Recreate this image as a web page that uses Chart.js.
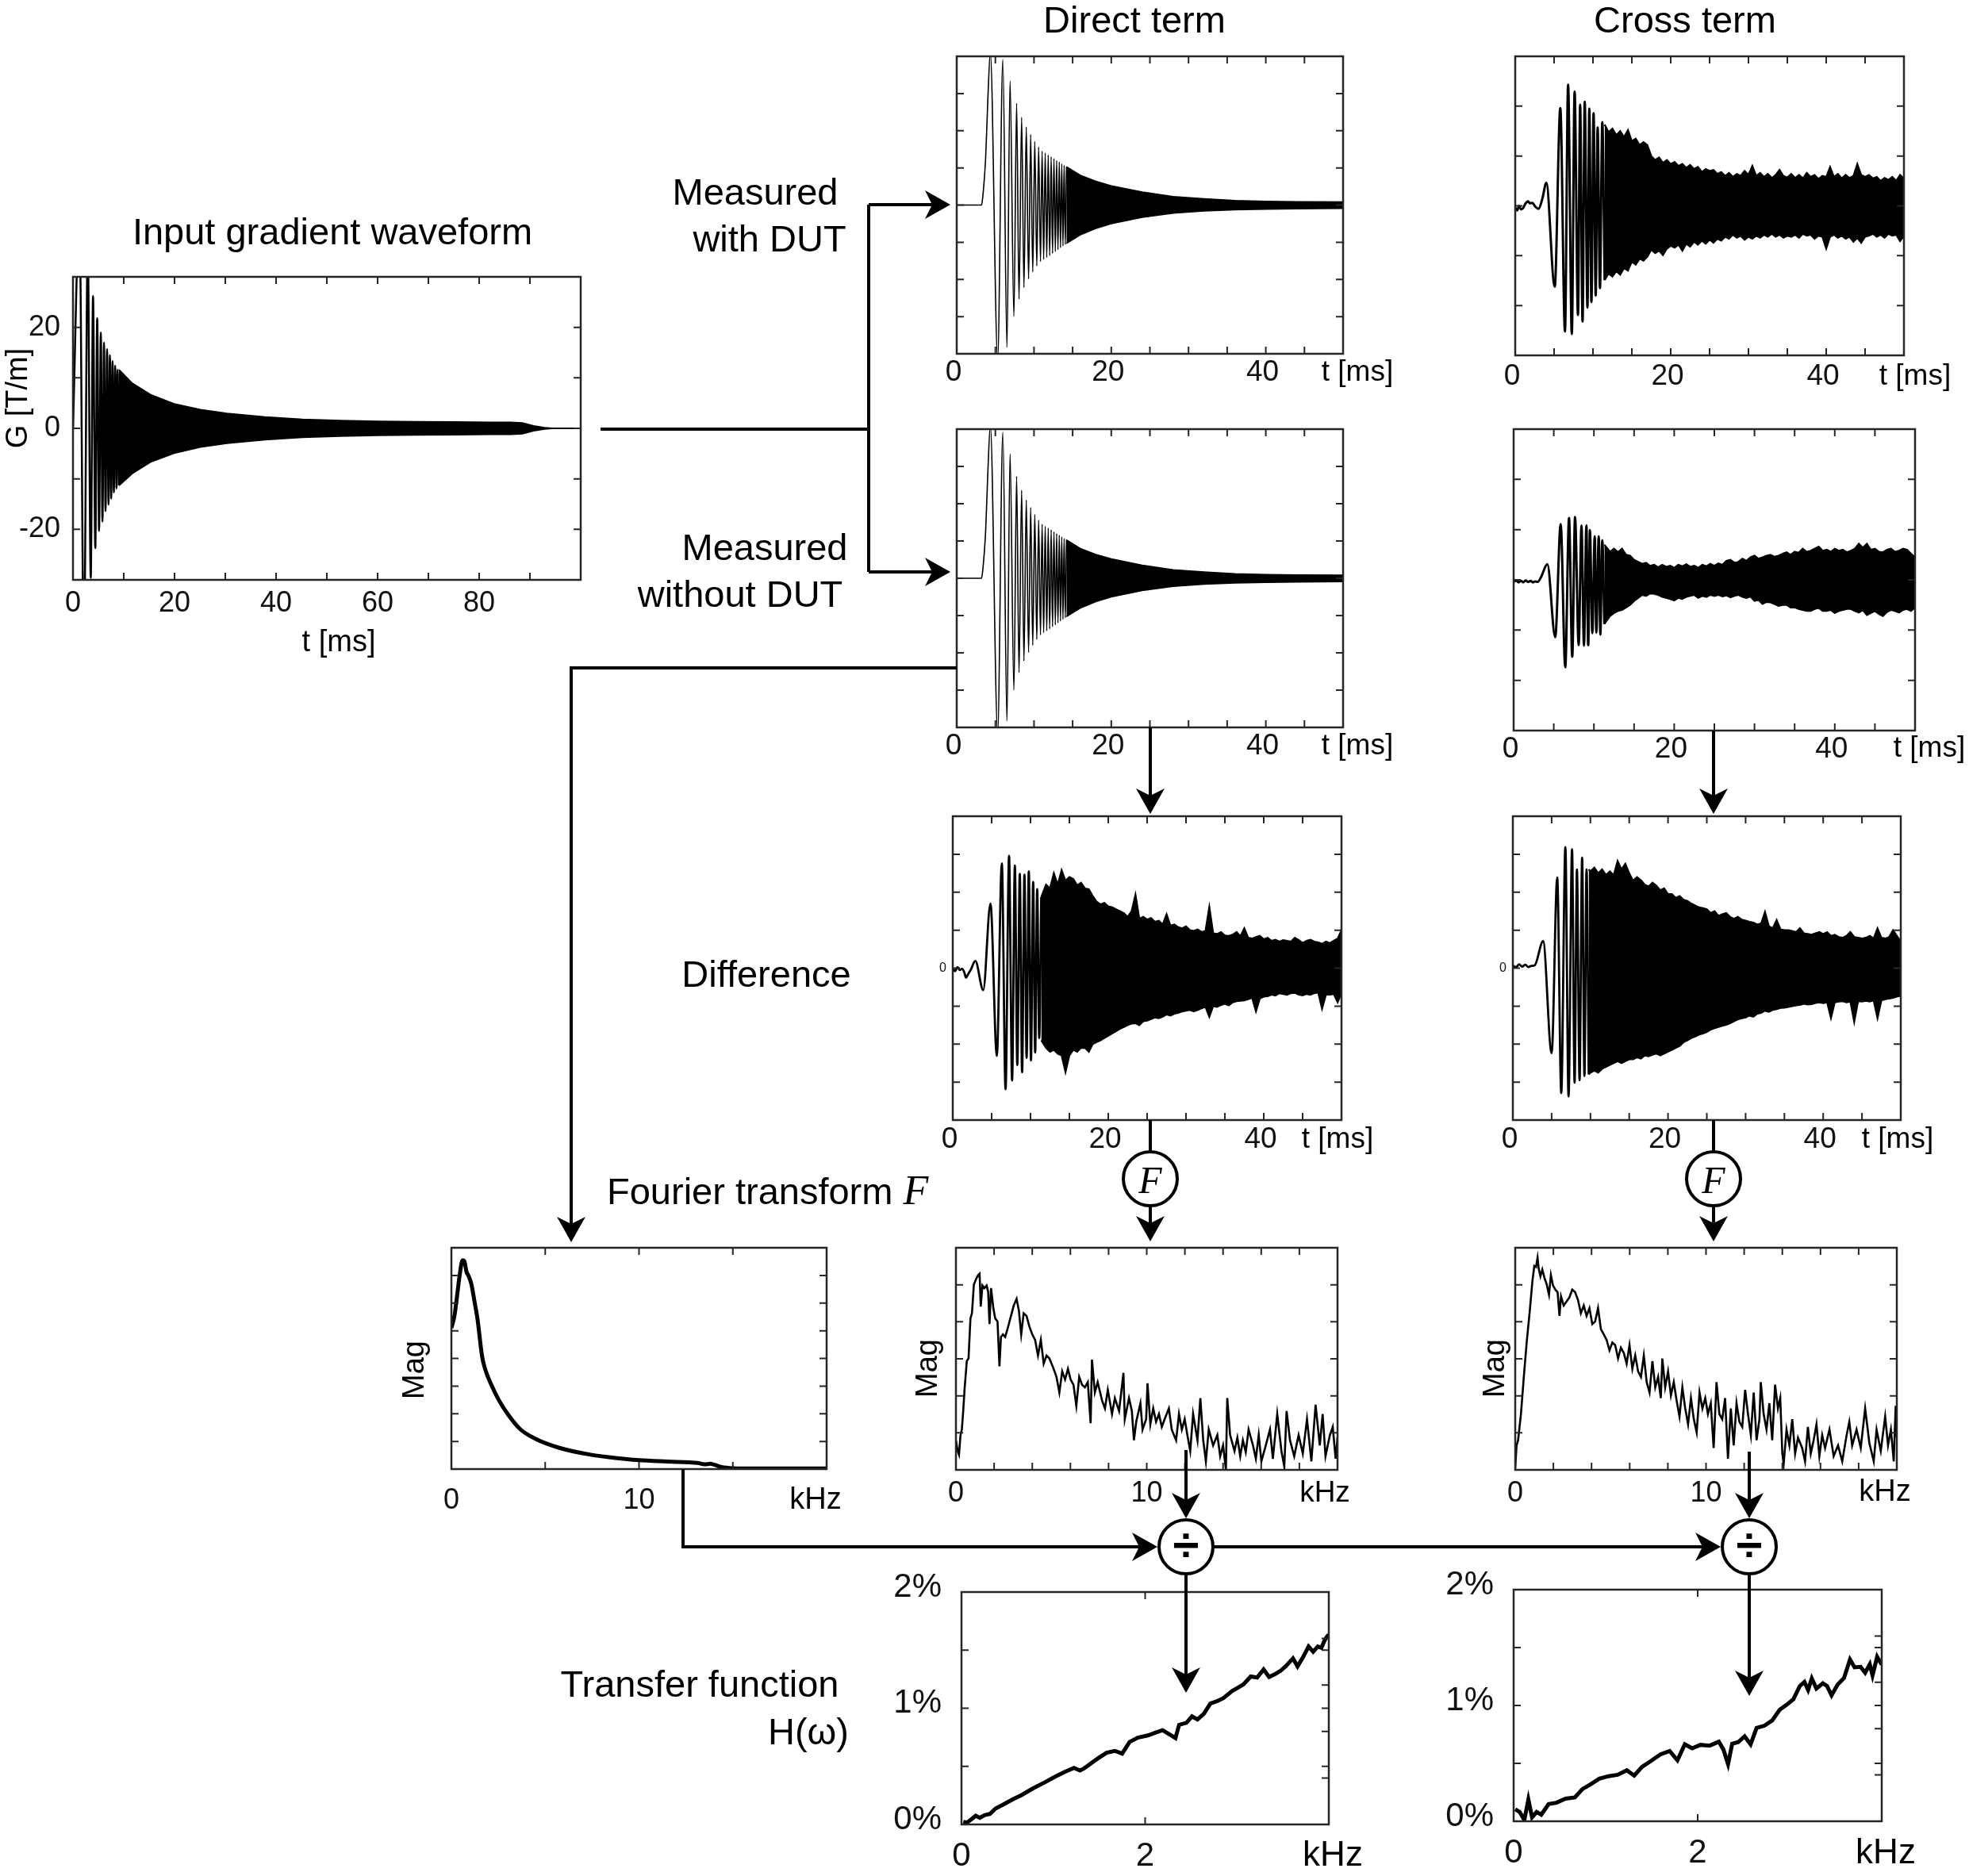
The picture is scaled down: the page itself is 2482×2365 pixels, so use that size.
<!DOCTYPE html>
<html><head><meta charset="utf-8">
<script src="https://cdn.jsdelivr.net/npm/chart.js@4/dist/chart.umd.min.js"></script>
<style>
html,body{margin:0;padding:0;background:#fff;}
#page{position:relative;width:2482px;height:2365px;overflow:hidden;background:#fff;font-family:'Liberation Sans',Arial,sans-serif;color:#000;}
canvas{position:absolute;}
.t{position:absolute;white-space:nowrap;}
svg{position:absolute;left:0;top:0;}
</style></head><body><div id="page"></div>
<script>
// ===================== DATA =====================
// Input gradient waveform (t [ms], G [T/m]) - individual extrema then envelope
const inputPeaks = [[0,0],[1.27,42],[2.16,-44],[2.91,36],[3.50,-29.6],[3.95,26.2],[4.40,-23.7],[4.77,21.8],[5.14,-20.3],[5.48,19.0],[5.81,-18.5],[6.11,17.0],[6.41,-16.4],[6.71,15.7],[7.00,-15.1],[7.27,14.5],[7.53,-13.9],[7.79,13.3],[8.05,-12.7],[8.31,12.4],[8.57,-11.9],[8.79,11.6],[9.05,-11.3]];
const inputEnvT  = [9.05,11.7,15.4,19.9,25.1,30.3,37.8,45.2,52.7,60.1,67.6,75.0,82.5,86.2,88.5,90.7,92.9,94.4,100];
const inputEnvUp = [11.6,8.9,6.6,4.85,3.7,2.96,2.25,1.78,1.54,1.36,1.3,1.24,1.18,1.18,1.07,0.47,0.12,0,0];
const inputEnvLo = [-11.3,-8.9,-6.6,-4.9,-3.7,-2.96,-2.25,-1.78,-1.54,-1.36,-1.3,-1.24,-1.18,-1.18,-1.07,-0.47,-0.12,0,0];

// Direct term, measured (with / without DUT look identical)
const directPeaks = [[0,0],[3.2,0],[3.36,0.2],[3.75,1.3],[4.03,2.86],[4.35,4.1],[5.3,-4.15],[5.97,3.92],[6.5,-3.83],[6.9,3.34],[7.4,-3.0],[7.75,2.74],[8.06,-2.53],[8.4,2.36],[8.7,-2.22],[9.0,2.10],[9.3,-1.99],[9.57,1.90],[9.84,-1.80],[10.1,1.71],[10.36,-1.64],[10.6,1.56],[10.84,-1.52],[11.05,1.45],[11.25,-1.46],[11.45,1.40],[11.65,-1.41],[11.84,1.35],[12.03,-1.36],[12.22,1.30],[12.40,-1.30],[12.58,1.25],[12.76,-1.25],[12.93,1.20],[13.10,-1.20],[13.27,1.16],[13.43,-1.15],[13.59,1.11],[13.75,-1.10],[13.90,1.07],[14.05,-1.06],[14.20,1.03]];
const directEnvT  = [14.2,16,18,20,24,28,32,36,40,44,50];
const directEnvUp = [1.03,0.80,0.64,0.52,0.35,0.23,0.17,0.125,0.10,0.09,0.085];
const directEnvLo = [-1.03,-0.80,-0.63,-0.50,-0.33,-0.22,-0.16,-0.13,-0.11,-0.10,-0.09];

// Cross term, measured with DUT
const crossTopPeaks = [[0,-0.04],[0.25,-0.09],[0.5,0.0],[0.75,-0.07],[1.0,-0.05],[1.3,0.04],[1.65,0.09],[1.9,0.05],[2.2,0.06],[2.6,-0.02],[3.0,-0.06],[3.5,0.15],[4.0,0.46],[5.08,-1.62],[5.8,1.96],[6.4,-2.52],[6.8,2.43],[7.28,-2.57],[7.64,2.29],[8.07,-2.19],[8.35,2.03],[8.66,-2.32],[8.94,2.09],[9.29,-2.04],[9.53,1.95],[9.8,-1.93],[10.08,1.86],[10.35,-1.80],[10.6,1.57],[10.9,-1.65],[11.2,1.68],[11.5,-1.49]];
const crossTopEnvT  = [11.5,12,12.5,13,13.5,14,14.5,15,15.5,16,16.5,17,17.5,18,18.5,19,19.5,20,20.5,21,21.5,22,22.5,23,23.5,24,24.5,25,25.5,26,26.5,27,27.5,28,28.5,29,29.5,30,30.5,31,31.5,32,32.5,33,33.5,34,34.5,35,35.5,36,36.5,37,37.5,38,38.5,39,39.5,40,40.5,41,41.5,42,42.5,43,43.5,44,44.5,45,45.5,46,46.5,47,47.5,48,48.5,49,49.5,50];
const crossTopEnvUp = [1.63,1.48,1.55,1.42,1.50,1.38,1.52,1.30,1.35,1.22,1.28,1.22, 1.00,0.92,0.97,0.86,0.92,0.84, 0.88,0.80,0.84,0.76,0.82,0.74,0.78,0.68,0.74,0.70, 0.72,0.64,0.68,0.60,0.66,0.58,0.64,0.60,0.70,0.62, 0.80,0.60,0.66,0.58,0.64,0.56,0.62,0.72,0.60,0.57, 0.64,0.56,0.62,0.55,0.66,0.58,0.62,0.54,0.60,0.58, 0.78,0.58,0.64,0.55,0.62,0.56,0.60,0.84,0.62,0.58, 0.62,0.55,0.58,0.50,0.56,0.52,0.58,0.50,0.62,0.55];
const crossTopEnvLo = [-1.49,-1.36,-1.42,-1.31,-1.38,-1.25,-1.30,-1.12,-1.18,-1.06,-1.10,-1.02, -0.88,-0.95,-0.90,-0.99,-0.86,-0.80, -0.84,-0.78,-0.90,-0.76,-0.82,-0.72,-0.78,-0.70,-0.76,-0.68, -0.74,-0.66,-0.70,-0.62,-0.66,-0.58,-0.64,-0.60,-0.68,-0.62, -0.66,-0.60,-0.64,-0.58,-0.62,-0.56,-0.62,-0.58,-0.64,-0.60, -0.62,-0.58,-0.64,-0.56,-0.60,-0.58,-0.66,-0.60,-0.62,-0.86, -0.62,-0.58,-0.64,-0.60,-0.66,-0.62,-0.72,-0.64,-0.74,-0.62, -0.60,-0.56,-0.62,-0.58,-0.64,-0.56,-0.60,-0.58,-0.71,-0.60];

// Cross term, measured without DUT
const crossMidPeaks = [[0,-0.04],[0.3,-0.01],[0.6,-0.05],[0.9,-0.02],[1.2,-0.05],[1.5,-0.01],[1.8,-0.04],[2.1,-0.02],[2.4,-0.05],[2.7,-0.03],[3.0,-0.04],[3.4,0.05],[4.2,0.31],[5.18,-1.14],[5.86,1.11],[6.43,-1.74],[6.9,1.23],[7.3,-1.53],[7.65,1.25],[8.1,-1.30],[8.45,1.08],[8.76,-1.31],[9.06,1.08],[9.29,-1.30],[9.5,0.99],[9.8,-1.06],[10.1,0.87],[10.3,-1.05],[10.6,0.87],[10.8,-1.09],[11.04,0.79],[11.3,-0.88]];
const crossMidEnvT  = [11.3,12,12.5,13,13.5,14,14.5,15,15.5,16,16.5,17,17.5,18,18.5,19,19.5,20,20.5,21,21.5,22,22.5,23,23.5,24,24.5,25,25.5,26,26.5,27,27.5,28,28.5,29,29.5,30,30.5,31,31.5,32,32.5,33,33.5,34,34.5,35,35.5,36,36.5,37,37.5,38,38.5,39,39.5,40,40.5,41,41.5,42,42.5,43,43.5,44,44.5,45,45.5,46,46.5,47,47.5,48,48.5,49,49.5,50];
const crossMidEnvUp = [0.70, 0.56,0.62,0.55,0.62,0.50,0.48,0.40,0.36,0.32,0.34,0.28, 0.30,0.25,0.30,0.26,0.28,0.24,0.30,0.27,0.31,0.26, 0.28,0.24,0.30,0.27,0.32,0.28,0.33,0.30,0.38,0.40, 0.34,0.36,0.42,0.38,0.45,0.48,0.42,0.45,0.48,0.50, 0.46,0.48,0.52,0.55,0.50,0.56,0.54,0.62,0.56,0.58, 0.62,0.66,0.58,0.60,0.56,0.62,0.58,0.60,0.55,0.58, 0.62,0.72,0.64,0.72,0.60,0.62,0.56,0.55,0.60,0.62, 0.56,0.58,0.62,0.60,0.52,0.45];
const crossMidEnvLo = [-0.88, -0.72,-0.66,-0.62,-0.60,-0.55,-0.50,-0.42,-0.36,-0.30,-0.32,-0.27, -0.28,-0.30,-0.34,-0.36,-0.38,-0.41,-0.36,-0.38,-0.34,-0.32, -0.30,-0.36,-0.32,-0.34,-0.30,-0.32,-0.30,-0.33,-0.31,-0.35, -0.32,-0.30,-0.34,-0.36,-0.33,-0.42,-0.40,-0.48,-0.44,-0.45, -0.48,-0.52,-0.50,-0.50,-0.55,-0.55,-0.58,-0.60,-0.62,-0.62, -0.58,-0.56,-0.62,-0.62,-0.60,-0.66,-0.62,-0.60,-0.58,-0.58, -0.62,-0.65,-0.60,-0.70,-0.66,-0.62,-0.68,-0.72,-0.64,-0.60, -0.62,-0.65,-0.60,-0.58,-0.62,-0.55];

// Difference, direct term
const diffDirectPeaks = [[0,0.0],[0.3,-0.08],[0.6,0.03],[0.9,-0.05],[1.2,-0.02],[1.5,-0.12],[1.7,-0.25],[2.0,-0.15],[2.3,-0.05],[2.9,0.19],[3.92,-0.58],[4.85,1.70],[5.67,-2.31],[6.31,2.76],[6.79,-3.19],[7.24,2.96],[7.63,-2.96],[7.99,2.70],[8.30,-2.55],[8.62,2.48],[8.92,-2.74],[9.22,2.46],[9.50,-2.36],[9.78,2.55],[10.06,-2.43],[10.34,2.27],[10.60,-2.22],[10.86,2.08],[11.12,-1.84],[11.38,1.87]];
const diffDirectEnvT  = [11.38,12,12.5,13,13.5,14,14.5,15,15.5,16,16.5,17,17.5,18,18.5,19,19.5,20,20.5,21,21.5,22,22.5,23,23.5,24,24.5,25,25.5,26,26.5,27,27.5,28,28.5,29,29.5,30,30.5,31,31.5,32,32.5,33,33.5,34,34.5,35,35.5,36,36.5,37,37.5,38,38.5,39,39.5,40,40.5,41,41.5,42,42.5,43,43.5,44,44.5,45,45.5,46,46.5,47,47.5,48,48.5,49,49.5,50];
const diffDirectEnvUp = [1.87, 2.2,2.1,2.5,2.2,2.58,2.3,2.4,2.35,2.18,2.25,2.1, 2.08,1.9,1.75,1.68,1.72,1.63,1.6,1.55,1.5,1.45, 1.35,1.5,1.94,1.3,1.35,1.28,1.32,1.22,1.25,1.15, 1.42,1.12,1.15,1.08,1.05,1.1,1.0,0.98,1.02,0.95, 0.98,1.62,0.92,0.9,0.95,0.86,0.85,0.88,0.95,0.84, 1.05,0.8,0.78,0.82,0.85,0.76,0.8,0.72,0.75,0.7, 0.74,0.72,0.7,0.8,0.74,0.66,0.72,0.75,0.7,0.68, 0.64,0.7,0.66,0.72,0.78,1.0];
const diffDirectEnvLo = [-1.9, -2.1,-2.2,-2.15,-2.25,-2.3,-2.74,-2.3,-2.15,-2.2,-2.1,-2.1, -2.2,-2.0,-1.95,-1.9,-1.84,-1.78,-1.72,-1.66,-1.6,-1.55, -1.5,-1.46,-1.45,-1.5,-1.4,-1.38,-1.34,-1.3,-1.32,-1.28, -1.22,-1.25,-1.2,-1.18,-1.14,-1.12,-1.1,-1.14,-1.1,-1.06, -1.02,-1.28,-1.0,-1.02,-0.97,-0.94,-0.98,-0.9,-0.87,-0.86, -0.85,-0.82,-0.78,-1.14,-0.8,-0.75,-0.74,-0.7,-0.72,-0.66, -0.68,-0.7,-0.66,-0.65,-0.7,-0.72,-0.68,-0.7,-0.66,-0.64, -1.07,-0.7,-0.7,-0.68,-0.9,-0.66];

// Difference, cross term
const diffCrossPeaks = [[0,0.07],[0.4,0.02],[0.8,0.1],[1.2,0.04],[1.6,0.09],[2.0,0.03],[2.4,0.06],[2.8,0.07],[3.9,0.71],[5.0,-2.24],[5.72,2.39],[6.24,-3.29],[6.77,3.19],[7.18,-3.38],[7.63,3.13],[7.96,-3.02],[8.26,2.6],[8.6,-2.95],[8.93,2.91],[9.23,-2.84],[9.5,2.6],[9.78,-2.8]];
const diffCrossEnvT  = [9.78,10,10.5,11,11.5,12,12.5,13,13.5,14,14.5,15,15.5,16,16.5,17,17.5,18,18.5,19,19.5,20,20.5,21,21.5,22,22.5,23,23.5,24,24.5,25,25.5,26,26.5,27,27.5,28,28.5,29,29.5,30,30.5,31,31.5,32,32.5,33,33.5,34,34.5,35,35.5,36,36.5,37,37.5,38,38.5,39,39.5,40,40.5,41,41.5,42,42.5,43,43.5,44,44.5,45,45.5,46,46.5,47,47.5,48,48.5,49,49.5,50];
const diffCrossEnvUp = [2.6, 2.55,2.65,2.5,2.6,2.45,2.55,2.45,2.82,2.6,2.75,2.5, 2.3,2.4,2.32,2.2,2.15,2.25,2.17,2.05,2.1,1.95, 1.95,1.85,1.9,1.8,1.77,1.7,1.65,1.6,1.58,1.55, 1.45,1.5,1.38,1.42,1.45,1.35,1.3,1.35,1.28,1.25, 1.22,1.2,1.15,1.18,1.48,1.1,1.05,1.27,1.02,1.0, 1.0,0.98,0.95,1.05,0.92,0.9,0.88,0.92,0.95,0.9, 0.95,0.85,0.88,0.82,0.8,0.85,0.95,0.82,0.8,0.78, 0.8,0.85,0.78,1.05,0.8,0.78,0.82,1.0,0.85,0.7];
const diffCrossEnvLo = [-2.8, -2.75,-2.7,-2.75,-2.65,-2.6,-2.55,-2.5,-2.45,-2.5,-2.45,-2.4, -2.4,-2.35,-2.38,-2.3,-2.32,-2.28,-2.25,-2.3,-2.25,-2.2, -2.15,-2.1,-2.05,-1.95,-1.9,-1.84,-1.8,-1.75,-1.72,-1.68, -1.62,-1.58,-1.55,-1.52,-1.49,-1.45,-1.4,-1.35,-1.32,-1.3, -1.25,-1.28,-1.2,-1.18,-1.12,-1.15,-1.1,-1.08,-1.05,-1.04, -1.02,-1.0,-0.98,-0.97,-0.94,-0.96,-0.95,-0.92,-0.9,-0.92, -0.9,-1.32,-0.9,-0.88,-0.87,-0.9,-0.88,-1.42,-0.87,-0.88, -0.86,-0.88,-0.85,-1.32,-0.85,-0.82,-0.8,-0.78,-0.75,-0.73];

// Fourier magnitudes (kHz, Mag)
const fftInput = [[0,5.10],[0.16,5.53],[0.29,6.19],[0.44,7.0],[0.6,7.55],[0.7,7.5],[0.8,7.14],[0.9,7.0],[1.06,6.7],[1.22,6.1],[1.39,5.43],[1.63,4.1],[1.79,3.63],[2.12,3.06],[2.53,2.49],[3.02,1.97],[3.67,1.44],[4.49,1.09],[5.79,0.76],[7.42,0.52],[9.05,0.38],[10.0,0.32],[11.5,0.27],[13.13,0.22],[13.5,0.17],[13.8,0.19],[14.0,0.16],[14.4,0.07],[15.0,0.03],[16.4,0.02],[20.0,0.02]];
const fftDirect = [[0,0.8],[0.09,0.51],[0.16,0.41],[0.24,0.94],[0.31,1.09],[0.37,1.51],[0.46,2.23],[0.57,2.94],[0.66,3.01],[0.76,4.09],[0.84,4.23],[0.94,5.01],[1.06,5.16],[1.16,5.26],[1.24,5.3],[1.30,4.41],[1.39,4.98],[1.49,4.91],[1.61,4.98],[1.69,4.8],[1.76,3.94],[1.84,4.91],[1.96,4.37],[2.06,4.09],[2.18,4.01],[2.28,2.8],[2.36,3.59],[2.46,3.66],[2.58,3.59],[2.70,3.8],[2.85,4.09],[3.03,4.44],[3.18,4.62],[3.30,4.3],[3.42,3.66],[3.55,4.23],[3.70,4.16],[3.85,3.87],[4.00,3.66],[4.15,3.51],[4.30,3.09],[4.45,3.51],[4.60,2.87],[4.75,3.09],[4.90,3.01],[5.12,2.73],[5.27,2.51],[5.42,2.09],[5.57,2.66],[5.72,2.44],[5.87,2.73],[6.01,2.44],[6.16,2.3],[6.31,1.73],[6.46,2.51],[6.61,2.3],[6.76,2.23],[6.91,2.37],[7.06,1.26],[7.13,2.98],[7.28,2.09],[7.43,2.37],[7.66,1.87],[7.81,1.66],[7.96,2.16],[8.18,1.51],[8.33,1.94],[8.55,1.59],[8.78,2.62],[8.85,1.37],[9.07,1.94],[9.22,1.59],[9.33,0.8],[9.45,1.3],[9.67,1.8],[9.78,1.09],[9.97,1.37],[10.04,2.34],[10.19,1.23],[10.34,1.66],[10.49,1.3],[10.64,1.51],[10.79,1.16],[10.94,1.37],[11.16,1.66],[11.31,1.09],[11.54,0.8],[11.69,1.51],[11.84,1.09],[11.99,1.37],[12.13,0.94],[12.28,0.51],[12.43,1.51],[12.66,0.8],[12.81,1.94],[12.96,0.8],[13.10,0.23],[13.25,1.09],[13.48,0.66],[13.70,0.94],[13.85,0.37],[14.00,0.66],[14.15,0.01],[14.22,1.94],[14.37,0.94],[14.60,0.51],[14.75,0.87],[14.90,0.37],[15.04,0.8],[15.19,0.48],[15.34,1.09],[15.57,0.66],[15.72,0.3],[15.87,0.94],[16.01,0.23],[16.24,0.66],[16.46,1.09],[16.61,0.3],[16.84,1.51],[17.06,0.51],[17.21,0.09],[17.33,1.59],[17.51,0.8],[17.73,0.37],[17.96,0.94],[18.18,0.44],[18.40,1.37],[18.63,0.23],[18.85,1.76],[19.07,0.66],[19.22,1.51],[19.37,0.37],[19.60,0.94],[19.75,1.16],[19.90,0.3],[20.00,0.87]];
const fftCross = [[0,0.05],[0.07,0.66],[0.15,0.8],[0.30,1.51],[0.45,2.51],[0.60,3.44],[0.75,4.23],[0.90,5.09],[1.00,5.51],[1.09,5.48],[1.17,5.73],[1.23,5.44],[1.32,5.23],[1.42,5.41],[1.53,5.19],[1.65,5.01],[1.77,4.73],[1.87,5.26],[1.98,4.98],[2.10,4.87],[2.22,4.8],[2.32,4.16],[2.40,4.69],[2.54,4.44],[2.69,4.55],[2.84,4.66],[2.99,4.87],[3.14,4.8],[3.29,4.59],[3.44,4.23],[3.59,4.44],[3.74,4.16],[3.89,4.37],[4.04,3.94],[4.19,4.01],[4.34,4.37],[4.49,3.8],[4.64,3.66],[4.79,3.51],[4.94,3.23],[5.09,3.44],[5.24,3.37],[5.39,3.01],[5.54,3.3],[5.69,3.16],[5.84,2.87],[5.99,3.37],[6.14,2.73],[6.29,3.09],[6.44,2.66],[6.59,2.51],[6.74,3.09],[6.89,2.37],[7.04,2.09],[7.19,2.94],[7.34,2.23],[7.49,2.51],[7.63,1.94],[7.71,3.01],[7.86,2.23],[8.01,2.66],[8.16,2.01],[8.31,2.37],[8.46,1.87],[8.61,1.44],[8.76,2.23],[8.91,1.66],[9.06,1.23],[9.21,1.94],[9.36,1.37],[9.51,1.01],[9.66,2.09],[9.81,1.66],[9.96,1.94],[10.10,1.51],[10.25,1.8],[10.40,0.59],[10.55,2.37],[10.70,1.51],[10.85,1.37],[11.00,1.94],[11.15,0.3],[11.30,1.66],[11.45,0.66],[11.60,1.8],[11.75,1.3],[11.90,1.16],[12.05,2.16],[12.20,1.51],[12.35,0.94],[12.50,2.09],[12.65,0.8],[12.80,1.37],[12.87,2.37],[13.02,1.51],[13.17,1.09],[13.32,1.8],[13.47,0.8],[13.62,2.3],[13.77,1.66],[13.89,1.94],[14.00,0.44],[14.07,0.16],[14.22,1.09],[14.37,0.66],[14.52,1.37],[14.67,0.44],[14.82,0.87],[15.04,0.59],[15.19,0.23],[15.34,1.16],[15.49,0.44],[15.64,0.8],[15.79,1.23],[15.94,0.37],[16.09,0.94],[16.24,0.59],[16.47,1.09],[16.69,0.37],[16.92,0.66],[17.14,0.23],[17.37,0.94],[17.51,1.3],[17.66,0.66],[17.89,1.09],[18.11,0.59],[18.34,1.66],[18.56,0.73],[18.79,0.23],[18.94,1.09],[19.16,0.51],[19.39,1.44],[19.54,0.66],[19.69,1.09],[19.84,0.23],[19.94,1.73],[20.00,0.87]];

// Transfer functions (kHz, %)
const tfDirect = [[0.02,0.023],[0.06,0.016],[0.11,0.046],[0.155,0.075],[0.2,0.057],[0.25,0.08],[0.31,0.09],[0.37,0.137],[0.465,0.176],[0.56,0.217],[0.65,0.251],[0.775,0.309],[0.9,0.359],[1.02,0.411],[1.12,0.45],[1.225,0.487],[1.29,0.464],[1.33,0.48],[1.41,0.526],[1.49,0.571],[1.58,0.617],[1.67,0.633],[1.75,0.61],[1.83,0.709],[1.92,0.747],[2.03,0.766],[2.11,0.789],[2.19,0.811],[2.26,0.777],[2.33,0.743],[2.37,0.857],[2.45,0.875],[2.51,0.93],[2.57,0.903],[2.64,0.953],[2.71,1.04],[2.79,1.063],[2.85,1.086],[2.95,1.15],[3.01,1.177],[3.07,1.205],[3.15,1.273],[3.22,1.264],[3.29,1.333],[3.35,1.269],[3.41,1.291],[3.47,1.319],[3.53,1.36],[3.61,1.429],[3.66,1.36],[3.72,1.44],[3.78,1.531],[3.83,1.486],[3.88,1.531],[3.92,1.52],[3.95,1.577],[3.98,1.616],[4.0,1.634]];
const tfCross = [[0.017,0.103],[0.066,0.08],[0.116,0.011],[0.16,0.188],[0.2,0.034],[0.25,0.08],[0.3,0.057],[0.38,0.149],[0.465,0.16],[0.565,0.195],[0.665,0.206],[0.75,0.28],[0.83,0.316],[0.93,0.367],[1.03,0.389],[1.13,0.401],[1.23,0.44],[1.31,0.394],[1.395,0.47],[1.495,0.522],[1.595,0.577],[1.695,0.607],[1.78,0.527],[1.86,0.664],[1.94,0.63],[2.03,0.66],[2.13,0.653],[2.23,0.687],[2.28,0.619],[2.33,0.493],[2.375,0.669],[2.44,0.683],[2.51,0.733],[2.575,0.664],[2.64,0.806],[2.725,0.825],[2.81,0.871],[2.89,0.962],[2.97,1.008],[3.04,1.054],[3.11,1.168],[3.16,1.203],[3.2,1.134],[3.24,1.233],[3.29,1.146],[3.36,1.191],[3.405,1.168],[3.455,1.088],[3.52,1.18],[3.59,1.237],[3.655,1.397],[3.705,1.329],[3.77,1.333],[3.82,1.283],[3.87,1.356],[3.9,1.26],[3.95,1.42],[4.0,1.352]];

// Tick positions and tick labels
const inputXTicks = [10,20,30,40,50,60,70,80,90];
const inputYTicks = [-20,-10,0,10,20];
const inputXLabels = [[0,'0'],[20,'20'],[40,'40'],[60,'60'],[80,'80']];
const inputYLabels = [[20,'20'],[0,'0'],[-20,'-20']];
const timeXTicks = [5,10,15,20,25,30,35,40,45];
const timeXLabels = [[0,'0'],[20,'20'],[40,'40']];
const yTicks4 = [-3,-2,-1,0,1,2,3];
const yTicks3 = [-2,-1,0,1,2];
const zeroLabel = [[0,'0']];
const inFftXTicks = [5,10,15];
const inFftYTicks = [1,2,3,4,5,6,7];
const fftXTicks = [2,4,6,8,10,12,14,16,18];
const fftYTicks = [1,2,3,4,5];
const fftXLabels = [[0,'0'],[10,'10']];
const tfXTicks = [2];
const tfYTicks = [0.5,1,1.5];
const tfYTicksRight = [0.4,0.5,0.8,1.0,1.2,1.5,1.6];
const tfXLabels = [[0,'0'],[2,'2']];
const tfYLabels = [[0,'0%'],[1,'1%'],[2,'2%']];

// ===================== DRAWING =====================
const page = document.getElementById('page');
const FONT = '"Liberation Sans", Arial, sans-serif';
const panelCfg = {};

const matlabPlugin = {
  id: 'matlabBox',
  afterDatasetsDraw(chart) {
    const c = panelCfg[chart.canvas.id]; if (!c) return;
    const ctx = chart.ctx, a = chart.chartArea, xs = chart.scales.x, ys = chart.scales.y;
    const tl = 9;
    ctx.save();
    ctx.strokeStyle = '#262626'; ctx.lineWidth = 2; ctx.lineCap = 'butt';
    ctx.beginPath();
    (c.xTicks||[]).forEach(v => { const p = xs.getPixelForValue(v);
      ctx.moveTo(p, a.bottom); ctx.lineTo(p, a.bottom - tl); ctx.moveTo(p, a.top); ctx.lineTo(p, a.top + tl); });
    (c.yTicks||[]).forEach(v => { const p = ys.getPixelForValue(v);
      ctx.moveTo(a.left, p); ctx.lineTo(a.left + tl, p);
      if (!c.yTicksRight) { ctx.moveTo(a.right, p); ctx.lineTo(a.right - tl, p); } });
    (c.yTicksRight||[]).forEach(v => { const p = ys.getPixelForValue(v);
      ctx.moveTo(a.right, p); ctx.lineTo(a.right - tl, p); });
    ctx.stroke();
    ctx.lineWidth = 2.5;
    ctx.strokeRect(a.left, a.top, a.right - a.left, a.bottom - a.top);
    ctx.fillStyle = '#111';
    ctx.font = c.size + 'px ' + FONT;
    ctx.textAlign = 'center'; ctx.textBaseline = 'alphabetic';
    (c.xLabels||[]).forEach(([v, s]) => ctx.fillText(s, xs.getPixelForValue(v) + (c.xDx||0), a.bottom + c.xDy));
    ctx.textAlign = 'right'; ctx.textBaseline = 'middle';
    ctx.font = (c.ySize || c.size) + 'px ' + FONT;
    (c.yLabels||[]).forEach(([v, s]) => ctx.fillText(s, a.left - c.yDx, ys.getPixelForValue(v) + (c.yDy||0)));
    ctx.restore();
  }
};

const P = arr => arr.map(([x, y]) => ({x, y}));
function trace(pairs, w, smooth) {
  return {data: P(pairs), borderColor: '#000', borderWidth: w, fill: false, pointRadius: 0,
    cubicInterpolationMode: smooth ? 'monotone' : 'default', tension: 0, clip: 0, borderJoin: 'round'};
}
function envelope(t, up, lo, w) {
  return [
    {data: t.map((x, i) => ({x, y: up[i]})), borderColor: '#000', borderWidth: w, fill: false, pointRadius: 0, tension: 0, clip: 0, borderJoin: 'round'},
    {data: t.map((x, i) => ({x, y: lo[i]})), borderColor: '#000', borderWidth: w, fill: '-1', backgroundColor: '#000', pointRadius: 0, tension: 0, clip: 0, borderJoin: 'round'}
  ];
}
function makePanel(id, box, xr, yr, datasets, cfg) {
  const M = {l: 120, t: 45, r: 130, b: 75};
  const cv = document.createElement('canvas'); cv.id = id;
  const W = box.R - box.L + M.l + M.r, H = box.B - box.T + M.t + M.b;
  cv.width = W; cv.height = H;
  cv.style.left = (box.L - M.l) + 'px'; cv.style.top = (box.T - M.t) + 'px';
  cv.style.width = W + 'px'; cv.style.height = H + 'px';
  page.appendChild(cv);
  panelCfg[id] = cfg;
  new Chart(cv, {
    type: 'line', data: {datasets},
    options: {responsive: false, animation: false, events: [],
      layout: {padding: {left: M.l, top: M.t, right: M.r, bottom: M.b}},
      scales: {x: {type: 'linear', min: xr[0], max: xr[1], display: false},
               y: {type: 'linear', min: yr[0], max: yr[1], display: false}},
      plugins: {legend: {display: false}, tooltip: {enabled: false}},
      elements: {point: {radius: 0}}},
    plugins: [matlabPlugin]
  });
}

const timeCfg = (yt, extra) => Object.assign({xTicks: timeXTicks, yTicks: yt, xLabels: timeXLabels, size: 37, xDy: 34, xDx: -4}, extra||{});

makePanel('pA', {L:92,T:349,R:732,B:731}, [0,100], [-30,30],
  [trace(inputPeaks, 2.5, true), ...envelope(inputEnvT, inputEnvUp, inputEnvLo, 2)],
  {xTicks: inputXTicks, yTicks: inputYTicks, xLabels: inputXLabels, yLabels: inputYLabels, size: 36, xDy: 40, yDx: 16});
makePanel('pB', {L:1206,T:71,R:1693,B:446}, [0,50], [-4,4],
  [trace(directPeaks, 1.6, true), ...envelope(directEnvT, directEnvUp, directEnvLo, 1.5)], timeCfg(yTicks4));
makePanel('pC', {L:1910,T:71,R:2400,B:448}, [0,50], [-3,3],
  [trace(crossTopPeaks, 3, true), ...envelope(crossTopEnvT, crossTopEnvUp, crossTopEnvLo, 2.2)], timeCfg(yTicks3, {xDy: 37}));
makePanel('pD', {L:1206,T:541,R:1693,B:917}, [0,50], [-4,4],
  [trace(directPeaks, 1.6, true), ...envelope(directEnvT, directEnvUp, directEnvLo, 1.5)], timeCfg(yTicks4));
makePanel('pE', {L:1908,T:541,R:2414,B:921}, [0,50], [-3,3],
  [trace(crossMidPeaks, 3, true), ...envelope(crossMidEnvT, crossMidEnvUp, crossMidEnvLo, 2.2)], timeCfg(yTicks3));
makePanel('pF', {L:1201,T:1029,R:1691,B:1412}, [0,50], [-4,4],
  [trace(diffDirectPeaks, 2.8, true), ...envelope(diffDirectEnvT, diffDirectEnvUp, diffDirectEnvLo, 2.2)],
  timeCfg(yTicks4, {xDy: 35, yLabels: zeroLabel, ySize: 16, yDx: 8}));
makePanel('pG', {L:1907,T:1029,R:2396,B:1412}, [0,50], [-4,4],
  [trace(diffCrossPeaks, 2.8, true), ...envelope(diffCrossEnvT, diffCrossEnvUp, diffCrossEnvLo, 2.2)],
  timeCfg(yTicks4, {xDy: 35, yLabels: zeroLabel, ySize: 16, yDx: 8}));
makePanel('pH', {L:569,T:1573,R:1042,B:1852}, [0,20], [0,8],
  [trace(fftInput, 5, true)], {xTicks: inFftXTicks, yTicks: inFftYTicks, xLabels: fftXLabels, size: 36, xDy: 50});
makePanel('pI', {L:1205,T:1573,R:1686,B:1853}, [0,20], [0,6],
  [trace(fftDirect, 2.6, false)], {xTicks: fftXTicks, yTicks: fftYTicks, xLabels: fftXLabels, size: 36, xDy: 40});
makePanel('pJ', {L:1910,T:1573,R:2391,B:1853}, [0,20], [0,6],
  [trace(fftCross, 2.6, false)], {xTicks: fftXTicks, yTicks: fftYTicks, xLabels: fftXLabels, size: 36, xDy: 40});
makePanel('pK', {L:1212,T:2007,R:1675,B:2300}, [0,4], [0,2],
  [trace(tfDirect, 5, false)], {xTicks: tfXTicks, yTicks: tfYTicks, yTicksRight: tfYTicksRight, xLabels: tfXLabels, yLabels: tfYLabels, size: 42, xDy: 52, yDx: 25, yDy: -6});
makePanel('pL', {L:1908,T:2004,R:2372,B:2296}, [0,4], [0,2],
  [trace(tfCross, 5, false)], {xTicks: tfXTicks, yTicks: tfYTicks, yTicksRight: tfYTicksRight, xLabels: tfXLabels, yLabels: tfYLabels, size: 42, xDy: 52, yDx: 25, yDy: -6});

// ---------- arrows / flow lines ----------
const svgNS = 'http://www.w3.org/2000/svg';
const svg = document.createElementNS(svgNS, 'svg');
svg.setAttribute('width', 2482); svg.setAttribute('height', 2365);
page.appendChild(svg);
function sline(d) { const p = document.createElementNS(svgNS, 'path'); p.setAttribute('d', d);
  p.setAttribute('fill', 'none'); p.setAttribute('stroke', '#000'); p.setAttribute('stroke-width', 4);
  p.setAttribute('stroke-linejoin', 'miter'); svg.appendChild(p); }
function head(x, y, dir) {
  const L = 32, W = 18, N = 23;
  const pts = dir === 'r' ? [[x,y],[x-L,y-W],[x-N,y],[x-L,y+W]] : [[x,y],[x-W,y-L],[x,y-N],[x+W,y-L]];
  const p = document.createElementNS(svgNS, 'polygon');
  p.setAttribute('points', pts.map(q => q.join(',')).join(' ')); p.setAttribute('fill', '#000');
  svg.appendChild(p);
}
function circ(cx, cy) { const c = document.createElementNS(svgNS, 'circle');
  c.setAttribute('cx', cx); c.setAttribute('cy', cy); c.setAttribute('r', 34);
  c.setAttribute('fill', '#fff'); c.setAttribute('stroke', '#000'); c.setAttribute('stroke-width', 4); svg.appendChild(c); }

sline('M757 541 H1095'); sline('M1095 258 V721');
sline('M1095 258 H1180'); head(1198, 258, 'r');
sline('M1095 721 H1180'); head(1198, 721, 'r');
sline('M1206 842 H720 V1548'); head(720, 1566, 'd');
sline('M1450 917 V1007'); head(1450, 1026, 'd');
sline('M2160 921 V1007'); head(2160, 1026, 'd');
sline('M1450 1412 V1452'); sline('M2160 1412 V1452');
circ(1450, 1486); circ(2160, 1486);
sline('M1450 1520 V1546'); head(1450, 1565, 'd');
sline('M2160 1520 V1546'); head(2160, 1565, 'd');
sline('M1495 1828 V1895'); head(1495, 1914, 'd');
sline('M2205 1830 V1895'); head(2205, 1914, 'd');
sline('M861 1852 V1950 H1440'); head(1459, 1950, 'r');
sline('M1529 1950 H2150'); head(2169, 1950, 'r');
circ(1495, 1950); circ(2205, 1950);
sline('M1495 1984 V2116'); head(1495, 2134, 'd');
sline('M2205 1984 V2120'); head(2205, 2138, 'd');

// ---------- text ----------
function addText(html, x, baseline, size, align, extra) {
  const d = document.createElement('div'); d.className = 't';
  d.style.fontSize = size + 'px'; d.style.lineHeight = size + 'px';
  d.style.top = (baseline - 0.8465 * size) + 'px'; d.style.left = x + 'px';
  d.style.transform = align === 'center' ? 'translateX(-50%)' : align === 'right' ? 'translateX(-100%)' : 'none';
  if (extra) Object.assign(d.style, extra);
  d.innerHTML = html; page.appendChild(d); return d;
}
function addCentered(html, cx, cy, size, rot, extra) {
  const d = document.createElement('div'); d.className = 't';
  d.style.fontSize = size + 'px'; d.style.lineHeight = size + 'px';
  d.style.left = cx + 'px'; d.style.top = cy + 'px';
  d.style.transform = 'translate(-50%,-50%)' + (rot ? ' rotate(-90deg)' : '');
  if (extra) Object.assign(d.style, extra);
  d.innerHTML = html; page.appendChild(d); return d;
}
addText('Input gradient waveform', 419, 308, 47, 'center');
addText('Direct term', 1430, 41, 47, 'center');
addText('Cross term', 2124, 41, 47, 'center');
addText('Measured', 952, 258, 47, 'center');
addText('with DUT', 970, 317, 47, 'center');
addText('Measured', 964, 706, 47, 'center');
addText('without DUT', 933, 765, 47, 'center');
addText('Difference', 966, 1244, 47, 'center');
addText('Fourier transform <span style="font-family:\'Liberation Serif\',serif;font-style:italic;font-size:52px">F</span>', 765, 1517, 47, 'left');
addText('Transfer function', 882, 2139, 47, 'center');
addText('H(ω)', 1019, 2199, 47, 'center');

addText('t [ms]', 427, 821, 38, 'center');
addText('t [ms]', 1711, 480, 37, 'center');
addText('t [ms]', 2414, 485, 37, 'center');
addText('t [ms]', 1711, 951, 37, 'center');
addText('t [ms]', 2432, 954, 37, 'center');
addText('t [ms]', 1686, 1447, 37, 'center');
addText('t [ms]', 2392, 1447, 37, 'center');
addText('kHz', 1028, 1902, 38, 'center');
addText('kHz', 1670, 1893, 37, 'center');
addText('kHz', 2376, 1892, 38, 'center');
addText('kHz', 1680, 2352, 44, 'center');
addText('kHz', 2377, 2349, 44, 'center');
addCentered('G [T/m]', 21, 502, 38, true);
addCentered('Mag', 521, 1727, 38, true);
addCentered('Mag', 1168, 1725, 38, true);
addCentered('Mag', 1883, 1725, 38, true);
const serifF = {fontFamily: "'Liberation Serif', serif", fontStyle: 'italic'};
addCentered('F', 1450, 1488, 48, false, serifF);
addCentered('F', 2160, 1488, 48, false, serifF);
addCentered('÷', 1495, 1948, 60, false, {fontWeight: 'bold'});
addCentered('÷', 2205, 1948, 60, false, {fontWeight: 'bold'});
</script></body></html>
